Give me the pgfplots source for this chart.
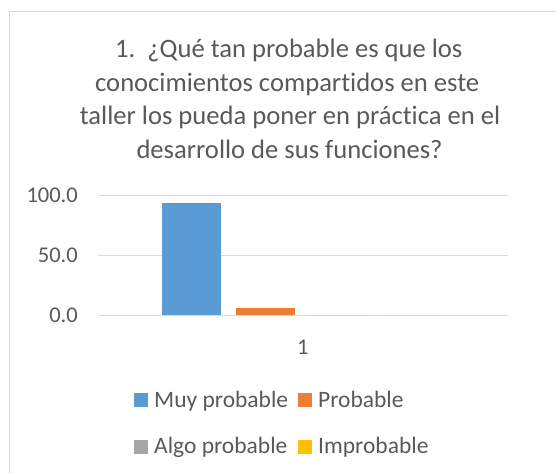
\documentclass[border=0pt]{standalone}
\usepackage{pgfplots}
\pgfplotsset{compat=1.18}
\usepackage{fontspec}
\setmainfont{Carlito}[Ligatures=NoCommon]
\definecolor{cblue}{HTML}{5B9BD5}
\definecolor{corange}{HTML}{ED7D31}
\definecolor{cgray}{HTML}{A5A5A5}
\definecolor{cyellow}{HTML}{FFC000}
\definecolor{ctext}{HTML}{595959}
\definecolor{cgrid}{HTML}{D9D9D9}
\newcommand{\cf}{\fontsize{23.5}{28}\selectfont}
\newcommand{\tf}{\fontsize{22.5}{26}\selectfont}
\newcommand{\ttf}{\fontsize{26.6}{32}\selectfont}
\pgfplotsset{sq/.style={legend image code/.code={\fill[##1] (0pt,-7pt) rectangle (14pt,7pt);}}}
\begin{document}
\begin{tikzpicture}[x=1pt,y=1pt]
\useasboundingbox (0,0) rectangle (556,472);
\draw[color=cgrid, line width=1pt] (9,-10) -- (9,460) -- (570,460);
\node[anchor=base west, inner sep=0pt, text=ctext, font=\ttf] at (115,414.5) {1.\ \ ¿Qué tan probable es que los};
\node[anchor=base west, inner sep=0pt, text=ctext, font=\ttf] at (95,380.8) {conocimientos compartidos en este};
\node[anchor=base west, inner sep=0pt, text=ctext, font=\ttf] at (79.7,347.1) {taller los pueda poner en práctica en el};
\node[anchor=base west, inner sep=0pt, text=ctext, font=\ttf] at (136.3,313.4) {desarrollo de sus funciones?};
\begin{axis}[
  at={(98pt,156.7pt)}, anchor=south west,
  scale only axis, width=409.7pt, height=119.6pt,
  xmin=0.5, xmax=1.5, ymin=0, ymax=100,
  ybar=15pt, bar width=59.3pt,
  xtick={1}, ytick={0,50,100},
  axis line style={draw=none},
  major tick length=0pt,
  ymajorgrids, grid style={cgrid, line width=1pt},
  /pgf/number format/assume math mode=true,
  yticklabel style={/pgf/number format/fixed, /pgf/number format/fixed zerofill, /pgf/number format/precision=1},
  tick label style={text=ctext, font=\tf},
  yticklabel style={anchor=east, inner sep=0pt, xshift=-20pt},
  xticklabel style={anchor=north, inner sep=0pt, yshift=-24.7pt},
  legend columns=2,
  legend cell align=left,
  legend style={draw=none, fill=none, at={(0.0879,-0.630)}, anchor=north west,
    inner sep=0pt, font=\cf, text=ctext, row sep=29pt,
    /tikz/every odd column/.append style={column sep=6pt},
    /tikz/every even column/.append style={column sep=10pt},
    nodes={inner sep=0pt}},
]
\addplot[fill=cblue, draw=none, sq] coordinates {(1,93.8)};
\addplot[fill=corange, draw=none, sq] coordinates {(1,6.2)};
\addplot[fill=cgray, draw=none, sq] coordinates {(1,0)};
\addplot[fill=cyellow, draw=none, sq] coordinates {(1,0)};
\legend{Muy probable, Probable, Algo probable, Improbable}
\end{axis}
\end{tikzpicture}
\end{document}
